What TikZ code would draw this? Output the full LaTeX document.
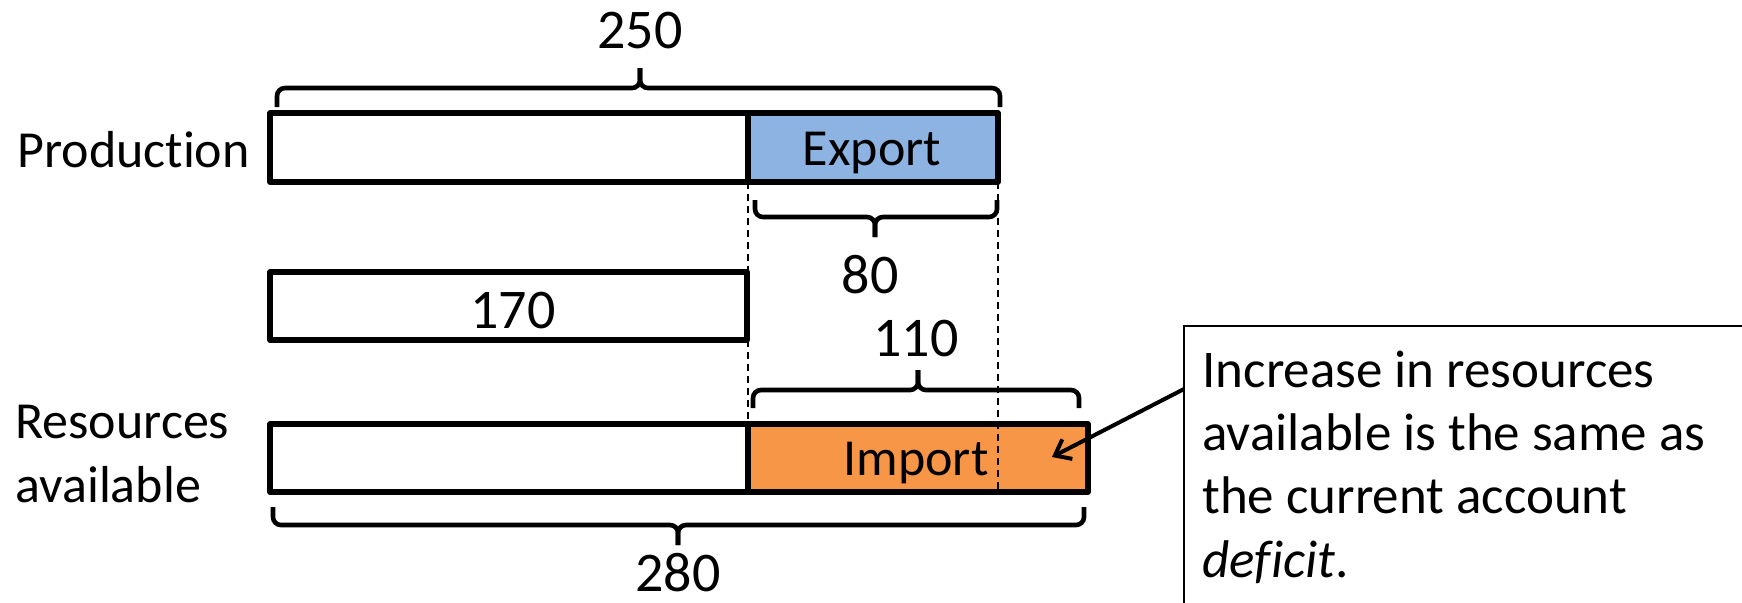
\documentclass[tikz,border=0pt]{standalone}
\usepackage{fontspec}
\setmainfont[Ligatures=NoCommon]{Carlito}
\usetikzlibrary{arrows.meta}
\definecolor{exportblue}{HTML}{8DB3E2}
\definecolor{importorange}{HTML}{F79646}

\begin{document}
\begin{tikzpicture}[x=0.5pt,y=-0.5pt,
  bar/.style={line width=2.6pt, line join=round},
  cbrace/.style={line width=2.3pt, rounded corners=4pt},
  guide/.style={line width=1.3pt, dash pattern=on 3.5pt off 2.5pt},
  lbl/.style={font=\fontsize{26}{31.5}\selectfont, inner sep=0pt},
  num/.style={font=\fontsize{28}{33}\selectfont, inner sep=0pt, anchor=base},
  note/.style={font=\fontsize{26.5}{31.5}\selectfont, inner sep=0pt, anchor=base west}]
\useasboundingbox (0,0) rectangle (1742,602);
\clip (0,0) rectangle (1742,602);

% bar corners
\coordinate (p1) at (270,113);  \coordinate (p2) at (998,182);
\coordinate (m1) at (270,272);  \coordinate (m2) at (747,340);
\coordinate (r1) at (270,424);  \coordinate (r2) at (1088,492);

% fills
\fill[exportblue] (748,113) rectangle (p2);
\fill[importorange] (748,424) rectangle (r2);

% guide lines
\draw[guide] (748,182) -- (748,272);
\draw[guide] (748,340) -- (748,424);
\draw[guide] (998,182) -- (998,492);

% bars
\draw[bar] (p1) rectangle (p2);
\draw[bar] (748,113) -- (748,182);
\draw[bar] (m1) rectangle (m2);
\draw[bar] (r1) rectangle (r2);
\draw[bar] (748,424) -- (748,492);

% braces
\draw[cbrace] (277,107) -- (277,88) -- (640,88) -- (640,68);
\draw[cbrace] (1000,107) -- (1000,88) -- (640,88) -- (640,68);

\draw[cbrace] (755,200) -- (755,217) -- (875,217) -- (875,237);
\draw[cbrace] (997,200) -- (997,217) -- (875,217) -- (875,237);

\draw[cbrace] (753,408) -- (753,390) -- (918,390) -- (918,370);
\draw[cbrace] (1079,408) -- (1079,390) -- (918,390) -- (918,370);

\draw[cbrace] (273,507) -- (273,525) -- (678,525) -- (678,545);
\draw[cbrace] (1084,507) -- (1084,525) -- (678,525) -- (678,545);

% numbers
\node[num] (n250) at (640,48) {250};
\node[num] (n80)  at (870,293) {80};
\node[num] (n170) at (513,328) {170};
\node[num] (n110) at (916,356) {110};
\node[num] (n280) at (678,591) {280};

% bar labels
\node[lbl, anchor=base] (export) at (872,165) {Export};
\node[lbl, anchor=base] (import) at (916,475) {Import};
\node[lbl, anchor=base west] (prod) at (17,167) {Production};
\node[lbl, anchor=base west] (res1) at (15,438) {Resources};
\node[lbl, anchor=base west] (res2) at (15,502) {available};

% callout
\draw[line width=1pt] (1184,326) rectangle (1800,700);
\node[note] (note1) at (1202,387) {Increase in resources};
\node[note] (note2) at (1202,450) {available is the same as};
\node[note] (note3) at (1202,513) {the current account};
\node[note] (note4) at (1202,577) {\textit{deficit}.};

\coordinate (arrowfrom) at (1184,389);
\coordinate (arrowto) at (1052,457);
\draw[line width=2pt, -{Straight Barb[length=7pt,width=11pt]}] (arrowfrom) -- (arrowto);
\end{tikzpicture}
\end{document}
